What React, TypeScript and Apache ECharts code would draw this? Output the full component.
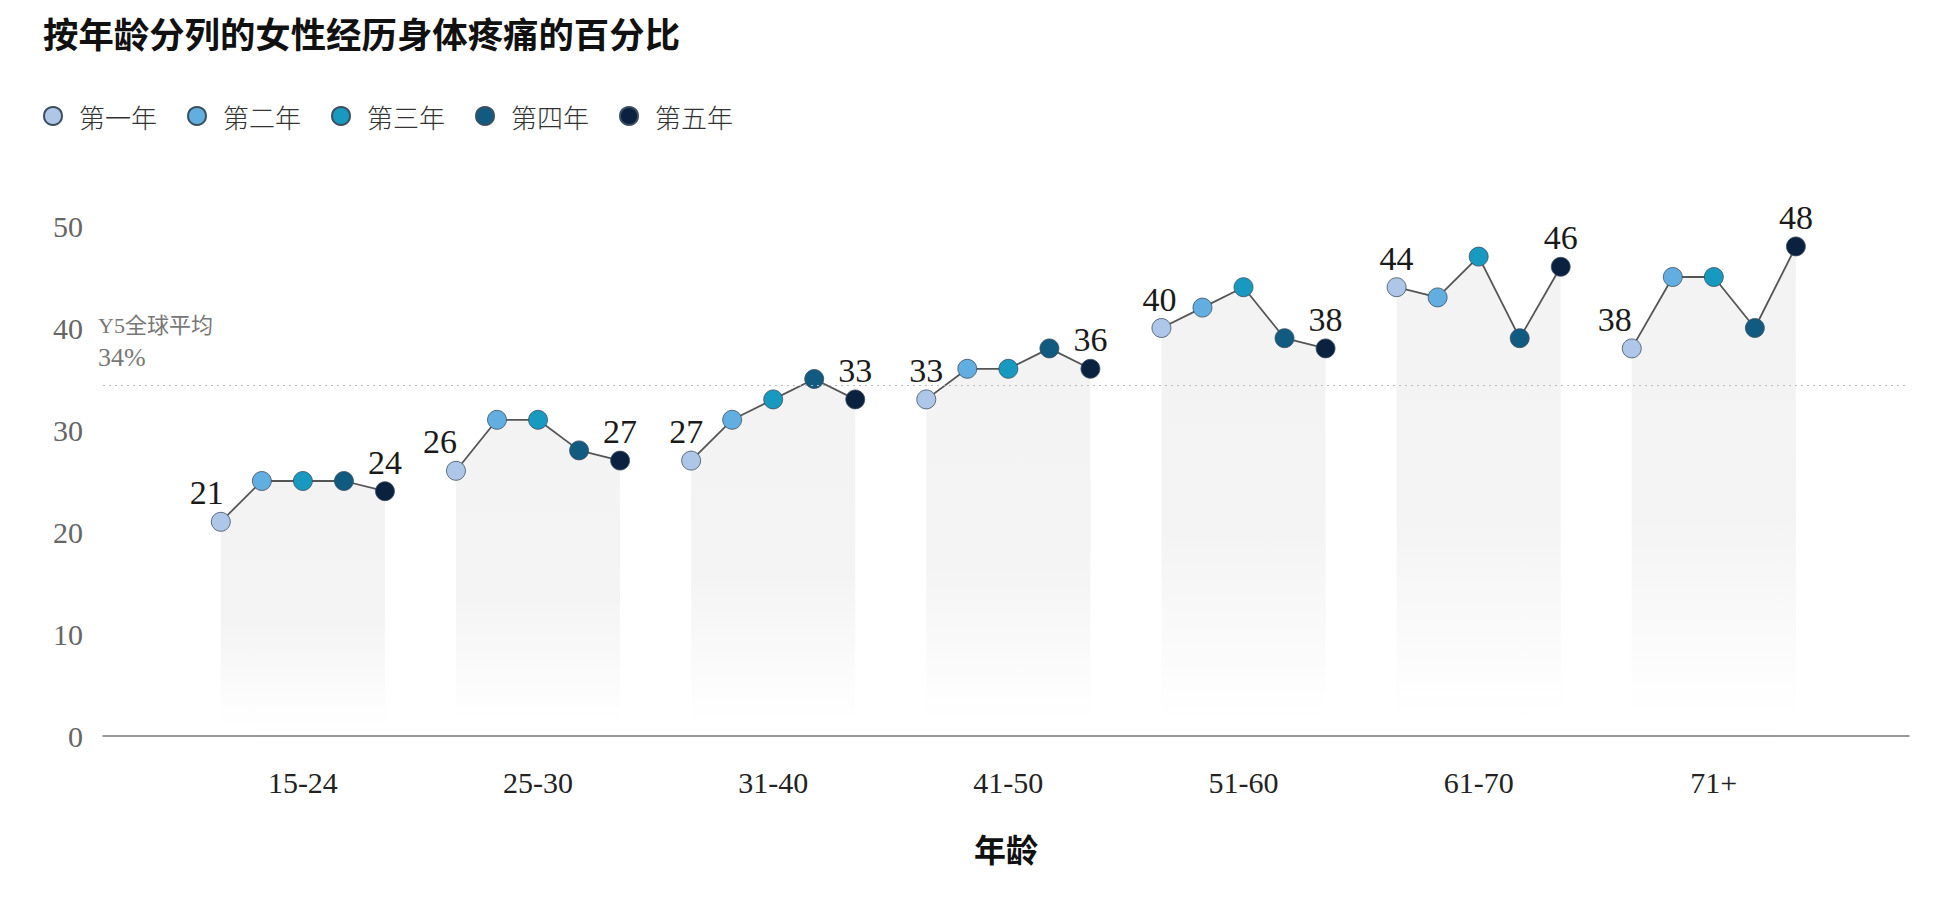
import React, { useEffect, useRef } from "react";
import * as echarts from "echarts";

const categories = ["15-24", "25-30", "31-40", "41-50", "51-60", "61-70", "71+"];
const yearNames = ["第一年", "第二年", "第三年", "第四年", "第五年"];
const year1 = [21, 26, 27, 33, 40, 44, 38];
const year2 = [25, 31, 31, 36, 42, 43, 45];
const year3 = [25, 31, 33, 36, 44, 47, 45];
const year4 = [25, 28, 35, 38, 39, 39, 40];
const year5 = [24, 27, 33, 36, 38, 46, 48];
const yTicks = [0, 10, 20, 30, 40, 50];
const globalAvgY5 = 34.4;
const globalAvgLabel = "Y5全球平均";

const yearColors = ["#aec7e8", "#62aee0", "#1899c0", "#115b80", "#0a2240"];
const firstLabelShift = [-14, -16, -5, 0, -2, 0, -17];

const SERIF = "'Liberation Serif', 'Noto Sans CJK SC', serif";
const CJK = "'Noto Sans CJK SC', sans-serif";

export default function App() {
  const ref = useRef<HTMLDivElement>(null);

  useEffect(() => {
    if (!ref.current) return;
    const chart = echarts.init(ref.current, undefined, { renderer: "svg" });
    const years = [year1, year2, year3, year4, year5];
    const step = 0.1745;
    const xOf = (g: number, y: number) => g + (y - 2) * step;

    const lineSeries = categories.map((_, g) => ({
      type: "line",
      name: "group-" + g,
      data: years.map((arr, y) => [xOf(g, y), arr[g]]),
      symbol: "none",
      silent: true,
      z: 1,
      lineStyle: { color: "#555", width: 1.8 },
      areaStyle: {
        opacity: 1,
        color: {
          type: "linear",
          x: 0,
          y: 0,
          x2: 0,
          y2: 1,
          colorStops: [
            { offset: 0, color: "rgba(238,238,238,0.72)" },
            { offset: 0.55, color: "rgba(238,238,238,0.66)" },
            { offset: 0.96, color: "rgba(238,238,238,0)" },
          ],
        },
      },
      ...(g === 0
        ? {
            markLine: {
              silent: true,
              symbol: "none",
              lineStyle: { type: [2, 4], color: "#bbb", width: 1.2 },
              label: {
                show: true,
                position: "insideStartTop",
                distance: [-5, 12],
                formatter:
                  "{a|" + globalAvgLabel + "}\n{b|" + Math.round(globalAvgY5) + "%}",
                rich: {
                  a: { fontFamily: SERIF, fontSize: 22, lineHeight: 32, color: "#777" },
                  b: { fontFamily: SERIF, fontSize: 26, lineHeight: 32, color: "#777" },
                },
                fontFamily: SERIF,
                fontSize: 22,
                lineHeight: 32,
                color: "#777",
              },
              data: [{ yAxis: globalAvgY5 }],
            },
          }
        : {}),
    }));

    const scatterSeries = years.map((arr, y) => ({
      type: "scatter",
      name: yearNames[y],
      z: 3,
      symbol: "circle",
      symbolSize: 19,
      itemStyle: {
        color: yearColors[y],
        borderColor: "#3d4f5f",
        borderWidth: 0.8,
        opacity: 1,
      },
      data: arr.map((v, g) => {
        const item: any = { value: [xOf(g, y), v] };
        if (y === 0 || y === 4) {
          item.label = {
            show: true,
            position: "top",
            distance: 2,
            offset: [y === 0 ? firstLabelShift[g] : 0, 0],
            formatter: String(v),
            fontFamily: SERIF,
            fontSize: 34,
            lineHeight: 34,
            color: "#1a1a1a",
          };
        }
        return item;
      }),
    }));

    chart.setOption({
      animation: false,
      backgroundColor: "#ffffff",
      title: {
        text: "按年龄分列的女性经历身体疼痛的百分比",
        left: 43,
        top: 15,
        padding: 0,
        textStyle: { fontFamily: CJK, fontSize: 35.4, fontWeight: "bold", color: "#111" },
      },
      legend: {
        left: 43,
        top: 103,
        padding: 0,
        itemWidth: 18,
        itemHeight: 18,
        itemGap: 30,
        icon: "circle",
        data: yearNames,
        itemStyle: { opacity: 1 },
        textStyle: {
          fontFamily: CJK,
          fontSize: 26,
          fontWeight: 300,
          lineHeight: 26,
          color: "#333",
          padding: [0, 0, 0, 12],
        },
      },
      grid: { left: 103, right: 27, top: 226, bottom: 161, containLabel: false },
      xAxis: {
        type: "value",
        min: -0.85,
        max: 6.83,
        z: 5,
        splitLine: { show: false },
        axisTick: { show: false },
        axisLine: { show: true, lineStyle: { color: "#777", width: 1.5 } },
        axisLabel: {
          customValues: categories.map((_, i) => i),
          formatter: (v: number) => categories[Math.round(v)] ?? "",
          fontFamily: SERIF,
          fontSize: 30,
          lineHeight: 30,
          margin: 31,
          color: "#222",
        },
        name: "年龄",
        nameLocation: "middle",
        nameGap: 96,
        nameTextStyle: { fontFamily: CJK, fontSize: 32, fontWeight: "bold", color: "#111" },
      },
      yAxis: {
        type: "value",
        min: yTicks[0],
        max: yTicks[yTicks.length - 1],
        interval: 10,
        splitLine: { show: false },
        axisTick: { show: false },
        axisLine: { show: false },
        axisLabel: { fontFamily: SERIF, fontSize: 30, margin: 20, color: "#666" },
      },
      series: [...lineSeries, ...scatterSeries],
    });

    return () => chart.dispose();
  }, []);

  return (
    <div
      ref={ref}
      style={{ position: "fixed", left: 0, top: 0, width: 1936, height: 897 }}
    />
  );
}
